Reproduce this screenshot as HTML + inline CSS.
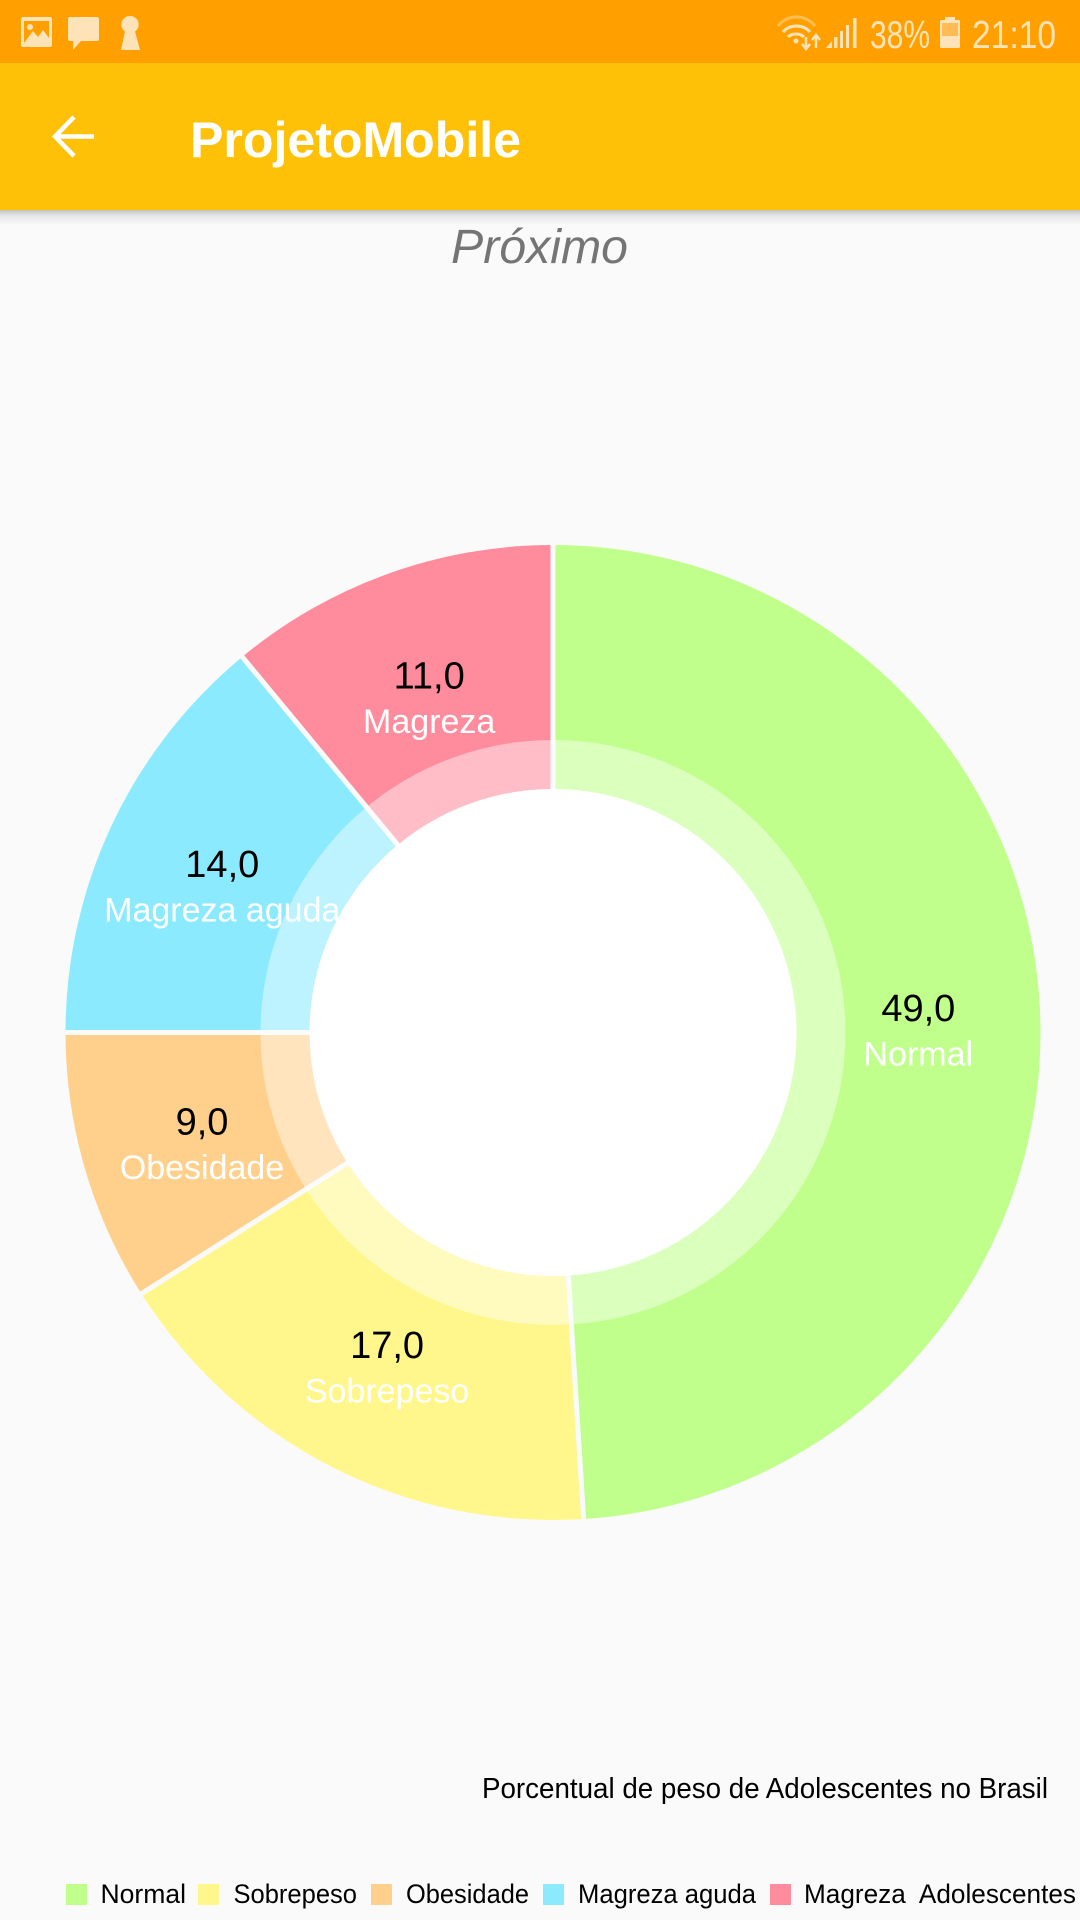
<!DOCTYPE html>
<html lang="pt">
<head>
<meta charset="utf-8">
<title>ProjetoMobile</title>
<style>
html,body{margin:0;padding:0;background:#fafafa;}
body{width:1080px;height:1920px;overflow:hidden;position:relative;font-family:"Liberation Sans",sans-serif;}
svg{position:absolute;left:0;top:0;display:block;}
text{font-family:"Liberation Sans",sans-serif;}
</style>
</head>
<body>
<svg id="stage" width="1080" height="1920" viewBox="0 0 1080 1920" xmlns="http://www.w3.org/2000/svg">
  <defs>
    <linearGradient id="shadow" x1="0" y1="0" x2="0" y2="1">
      <stop offset="0" stop-color="#000" stop-opacity="0.22"/>
      <stop offset="0.4" stop-color="#000" stop-opacity="0.08"/>
      <stop offset="1" stop-color="#000" stop-opacity="0"/>
    </linearGradient>
  </defs>
  <rect width="1080" height="1920" fill="#fafafa"/>

  <g id="chart"></g>

  <rect x="0" y="210" width="1080" height="15" fill="url(#shadow)"/>
  <rect x="0" y="0" width="1080" height="63" fill="#ffa000"/>
  <rect x="0" y="63" width="1080" height="147" fill="#ffc107"/>

  <g fill="#ffe3b8">
    <g>
      <rect x="21" y="17" width="31" height="30" rx="2"/>
      <rect x="24" y="21" width="25" height="22" fill="#ffa000"/>
      <path d="M24 43 L33 31 L38 37 L43 30 L49 38 L49 43 Z"/>
      <circle cx="30" cy="27" r="3"/>
    </g>
    <path d="M70 17 H97 a2 2 0 0 1 2 2 V39 a2 2 0 0 1 -2 2 H81 L73 50 V41 H70 a2 2 0 0 1 -2 -2 V19 a2 2 0 0 1 2 -2 Z"/>
    <path d="M130 16 a8.500 8.500 0 0 1 5 15.500 L140 50 H121 L125 31.500 a8.500 8.500 0 0 1 5 -15.500 Z"/>
  </g>

  <g fill="none" stroke="#ffe3b8">
    <path d="M778 26 C788 14 805 14 815 26" stroke-width="3" stroke-opacity="0.45"/>
    <path d="M783 32 C790 24 803 24 810 32" stroke-width="3"/>
    <path d="M788 37 C792 33 800 33 804 37" stroke-width="3"/>
    <circle cx="796" cy="41" r="2.500" fill="#ffe3b8" stroke="none"/>
    <path d="M806 37 V48 M802 44 L806 49 L810 44 M816 48 V36 M812 40 L816 35 L820 40" stroke-width="2.500"/>
  </g>
  <g fill="#ffe3b8">
    <path d="M826 48 L832 41 V48 Z"/>
    <rect x="834" y="37" width="3.500" height="11" opacity="0.9"/>
    <rect x="840" y="31" width="3" height="17"/>
    <rect x="846" y="25" width="3" height="23"/>
    <rect x="853" y="18" width="3.500" height="30"/>
  </g>
  <text x="870" y="48" font-size="39" fill="#ffe3b8" textLength="60" lengthAdjust="spacingAndGlyphs">38%</text>
  <g>
    <rect x="945" y="17" width="10" height="4" fill="#ffe3b8"/>
    <rect x="940" y="20" width="20" height="28" rx="1.500" fill="#ffe3b8"/>
    <rect x="942" y="23" width="16" height="13" fill="#ffbb55"/>
  </g>
  <text x="972" y="48" font-size="39" fill="#ffe3b8" textLength="84" lengthAdjust="spacingAndGlyphs">21:10</text>

  <g fill="none" stroke="#ffffff" stroke-width="4.500">
    <path d="M55 136.500 H94"/>
    <path d="M74 117 L55 136.500 L74 156"/>
  </g>
  <text x="190" y="157" font-size="50" font-weight="700" fill="#ffffff" textLength="331" lengthAdjust="spacingAndGlyphs">ProjetoMobile</text>
  <text x="451" y="263" font-size="48" font-style="italic" fill="#757575" textLength="177" lengthAdjust="spacingAndGlyphs">Próximo</text>

  <text x="482" y="1798" font-size="28.500" fill="#000000" textLength="566" lengthAdjust="spacingAndGlyphs">Porcentual de peso de Adolescentes no Brasil</text>

  <g font-size="26.500" fill="#000000">
    <g>
      <rect x="66" y="1884" width="21" height="21" fill="#c0ff8c"/>
      <text x="100.500" y="1903" textLength="85.500" lengthAdjust="spacingAndGlyphs">Normal</text>
    </g>
    <g>
      <rect x="198" y="1884" width="21" height="21" fill="#fff78c"/>
      <text x="233.500" y="1903" textLength="123.500" lengthAdjust="spacingAndGlyphs">Sobrepeso</text>
    </g>
    <g>
      <rect x="371" y="1884" width="21" height="21" fill="#ffd08c"/>
      <text x="406" y="1903" textLength="123" lengthAdjust="spacingAndGlyphs">Obesidade</text>
    </g>
    <g>
      <rect x="543" y="1884" width="21" height="21" fill="#8ceaff"/>
      <text x="578" y="1903" textLength="178" lengthAdjust="spacingAndGlyphs">Magreza aguda</text>
    </g>
    <g>
      <rect x="770" y="1884" width="21" height="21" fill="#ff8c9d"/>
      <text x="804" y="1903" textLength="272" lengthAdjust="spacingAndGlyphs" xml:space="preserve" style="white-space:pre">Magreza  Adolescentes</text>
    </g>
  </g>
</svg>

<script>
const categories = ['Normal', 'Sobrepeso', 'Obesidade', 'Magreza aguda', 'Magreza'];
const values = [49, 17, 9, 14, 11];
const colors = ['#c0ff8c', '#fff78c', '#ffd08c', '#8ceaff', '#ff8c9d'];

const NS = 'http://www.w3.org/2000/svg';
const chart = document.getElementById('chart');
const cx = 553, cy = 1032.5;
const outerR = 487.5, ringR = 292.5, holeR = 243.5, labelR = (outerR + holeR) / 2;
const total = values.reduce(function (a, b) { return a + b; }, 0);

function angleOf(cumulative) {
  return cumulative / total * Math.PI * 2;
}
function polar(r, a) {
  return [cx + r * Math.sin(a), cy - r * Math.cos(a)];
}
function make(tag, attrs) {
  const el = document.createElementNS(NS, tag);
  Object.keys(attrs).forEach(function (k) { el.setAttribute(k, attrs[k]); });
  return el;
}

let cumulative = 0;
const boundaries = [];
values.forEach(function (v, i) {
  const a0 = angleOf(cumulative);
  const a1 = angleOf(cumulative + v);
  const p0 = polar(outerR, a0), p1 = polar(outerR, a1);
  const large = (a1 - a0) > Math.PI ? 1 : 0;
  const slice = make('path', {
    d: 'M' + cx + ' ' + cy + ' L' + p0[0] + ' ' + p0[1] +
       ' A' + outerR + ' ' + outerR + ' 0 ' + large + ' 1 ' + p1[0] + ' ' + p1[1] + ' Z',
    fill: colors[i]
  });
  
  
  chart.appendChild(slice);
  boundaries.push(a0);
  cumulative += v;
});

boundaries.forEach(function (a) {
  const end = polar(outerR + 2, a);
  const gap = make('line', { x1: cx, y1: cy, x2: end[0], y2: end[1], stroke: '#fafafa', 'stroke-width': 5 });
  
  
  chart.appendChild(gap);
});

const ring = make('circle', { cx: cx, cy: cy, r: ringR, fill: '#ffffff', 'fill-opacity': 110 / 255 });


chart.appendChild(ring);

const hole = make('circle', { cx: cx, cy: cy, r: holeR, fill: '#ffffff' });


chart.appendChild(hole);

cumulative = 0;
values.forEach(function (v, i) {
  const mid = angleOf(cumulative + v / 2);
  const p = polar(labelR, mid);
  const valueText = make('text', {
    x: p[0], y: p[1], 'text-anchor': 'middle', 'font-size': 38, fill: '#000000'
  });
  valueText.textContent = v.toFixed(1).replace('.', ',');
  
  
  chart.appendChild(valueText);
  const catText = make('text', {
    x: p[0], y: p[1] + 44.5, 'text-anchor': 'middle', 'font-size': 34, fill: '#ffffff'
  });
  catText.textContent = categories[i];
  
  
  chart.appendChild(catText);
  cumulative += v;
});
</script>
</body>
</html>
